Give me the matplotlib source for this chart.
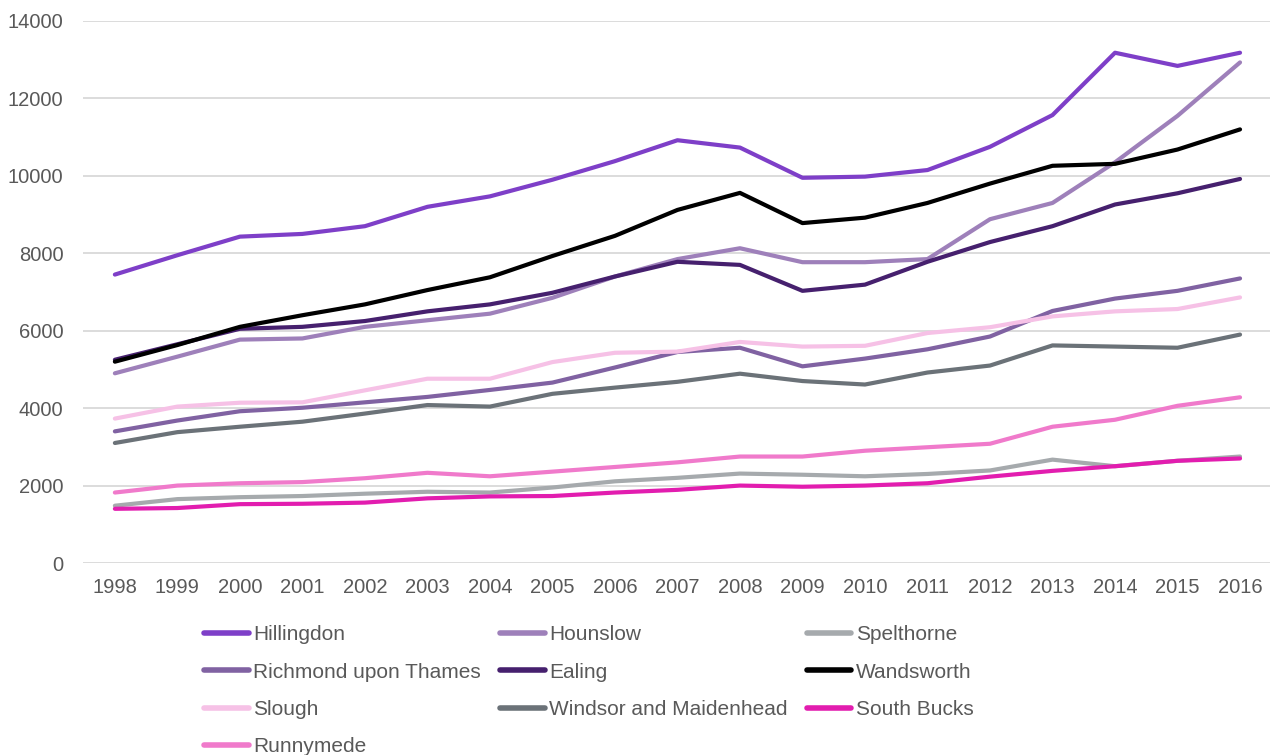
import numpy as np
import pandas as pd
import matplotlib.pyplot as plt

plt.rcParams['font.family'] = ['Liberation Sans', 'DejaVu Sans']

years = list(range(1998, 2017))

hillingdon = [7450, 7950, 8430, 8500, 8700, 9200, 9470, 9900, 10380, 10920,
              10730, 9950, 9980, 10150, 10750, 11570, 13180, 12840, 13180]
hounslow = [4900, 5330, 5770, 5800, 6100, 6270, 6440, 6850, 7400, 7850,
            8130, 7770, 7770, 7850, 8880, 9300, 10350, 11550, 12930]
spelthorne = [1480, 1650, 1700, 1730, 1790, 1840, 1820, 1950, 2110, 2200,
              2310, 2280, 2240, 2300, 2390, 2670, 2500, 2640, 2750]
richmond = [3400, 3680, 3920, 4010, 4150, 4290, 4470, 4660, 5050, 5450,
            5560, 5080, 5280, 5520, 5850, 6510, 6830, 7030, 7350]
ealing = [5250, 5650, 6050, 6100, 6250, 6500, 6680, 6980, 7400, 7780,
          7700, 7030, 7190, 7780, 8290, 8700, 9260, 9550, 9920]
wandsworth = [5200, 5630, 6100, 6400, 6680, 7050, 7380, 7930, 8450, 9120,
              9560, 8780, 8920, 9300, 9800, 10260, 10310, 10680, 11200]
slough = [3730, 4040, 4140, 4150, 4460, 4760, 4760, 5190, 5430, 5460,
          5710, 5590, 5610, 5940, 6090, 6370, 6500, 6560, 6860]
windsor = [3100, 3380, 3520, 3650, 3860, 4080, 4040, 4370, 4530, 4680,
           4890, 4700, 4610, 4920, 5100, 5620, 5590, 5560, 5900]
south_bucks = [1400, 1420, 1520, 1530, 1560, 1670, 1720, 1730, 1820, 1890,
               2000, 1970, 2000, 2060, 2230, 2380, 2500, 2640, 2700]
runnymede = [1820, 2000, 2060, 2090, 2190, 2330, 2240, 2360, 2480, 2600,
             2750, 2750, 2900, 2990, 3080, 3520, 3700, 4060, 4280]

df = pd.DataFrame({
    "Hillingdon": hillingdon,
    "Hounslow": hounslow,
    "Spelthorne": spelthorne,
    "Richmond upon Thames": richmond,
    "Ealing": ealing,
    "Wandsworth": wandsworth,
    "Slough": slough,
    "Windsor and Maidenhead": windsor,
    "South Bucks": south_bucks,
    "Runnymede": runnymede,
}, index=years)

farben = {
    "Hillingdon": "#7E3FC8",
    "Hounslow": "#9E80BA",
    "Spelthorne": "#A6AAAD",
    "Richmond upon Thames": "#8062A2",
    "Ealing": "#46206E",
    "Wandsworth": "#000000",
    "Slough": "#F6C1E6",
    "Windsor and Maidenhead": "#6B7278",
    "South Bucks": "#E21DAF",
    "Runnymede": "#F07ACB",
}

fig = plt.figure(figsize=(12.75, 7.55), dpi=100)
ax = fig.add_axes([0.0651, 0.2543, 0.931, 0.7179])

linien = {}
for name in df.columns:
    linien[name], = ax.plot(df.index, df[name], color=farben[name],
                            linewidth=3.0, solid_capstyle="round", label=name)

ax.set_xlim(1997.49, 2016.48)
ax.set_ylim(0, 14000)
ax.set_yticks(range(0, 14001, 2000))
ax.set_xticks(years)
ax.grid(axis="y", color="#D9D9D9", linewidth=1.3)
ax.set_axisbelow(True)
for s in ax.spines.values():
    s.set_visible(False)
ax.tick_params(length=0, labelsize=14.5, labelcolor="#595959")
ax.tick_params(axis="x", pad=11)
ax.tick_params(axis="y", pad=14)

# Legende zeilenweise wie im Original, matplotlib fuellt spaltenweise
reihenfolge = ["Hillingdon", "Richmond upon Thames", "Slough", "Runnymede",
               "Hounslow", "Ealing", "Windsor and Maidenhead",
               "Spelthorne", "Wandsworth", "South Bucks"]
leg = fig.legend([linien[n] for n in reihenfolge], reihenfolge, ncol=3,
                 loc="upper left", bbox_to_anchor=(0.1535, 0.183), frameon=False,
                 fontsize=15, labelcolor="#595959", handlelength=2.15,
                 handletextpad=0.22, columnspacing=0.9, labelspacing=0.88,
                 borderaxespad=0)
for h in leg.legend_handles:
    h.set_linewidth(4.0)

fig.savefig("out.png", dpi=100)
